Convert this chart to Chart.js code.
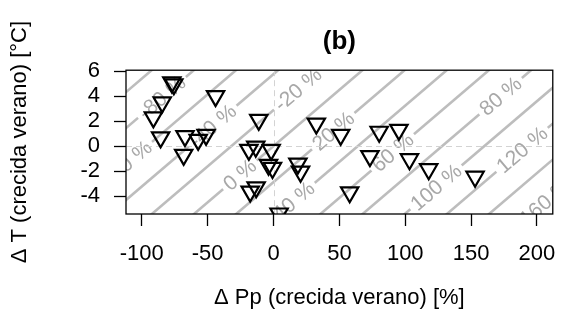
<!DOCTYPE html>
<html>
<head>
<meta charset="utf-8">
<script src="https://cdn.jsdelivr.net/npm/chart.js@4.4.1/dist/chart.umd.min.js"></script>
<style>
  html, body { margin: 0; padding: 0; background: #fff; }
  #wrap { width: 571px; height: 324px; }
</style>
</head>
<body>
<div id="wrap"><canvas id="chart" width="571" height="324"></canvas></div>
<script>
// points
const deltaPp = [-77.2, -75.7, -84.5, -91.2, -44.0, -85.7, -67.2, -57.2, -51.2, -68.2,
  -11.2, -18.7, -13.5, -1.8, -3.8, -0.8, 18.5, 20.5, -17.7, -13.2,
  4.2, 32.5, 51.0, 80.2, 95.2, 73.2, 103.2, 117.8, 153.0, 57.8];
const deltaT = [5.1, 4.95, 3.5, 2.3, 4.0, 0.7, 0.8, 0.5, 0.9, -0.7,
  2.1, -0.3, -0.05, -0.3, -1.5, -1.75, -1.4, -2.05, -3.65, -3.3,
  -5.4, 1.8, 0.9, 1.15, 1.3, -0.8, -1.05, -1.85, -2.45, -3.7];

const xTicks = [-100, -50, 0, 50, 100, 150, 200];
const yTicks = [-4, -2, 0, 2, 4, 6];

// background iso-lines (% change), Pp = ppPerLevel * level + ppPerDegree * T
const contourLevels = [-100, -80, -60, -40, -20, 0, 20, 40, 60, 80, 100, 120, 140, 160];
const ppPerLevel = 1.6;
const ppPerDegree = 11.1;
// where each label sits on its line (by T)
const labelLevels = [-80, -60, -40, -20, 0, 20, 40, 60, 80, 100, 120, 160];
const labelT = [3.9, -1.3, 1.6, 4.55, -2.3, 1.2, -4.4, -0.5, 4.0, -3.3, -0.3, -4.5];

const fontFam = '"Liberation Sans", Arial, sans-serif';
const lineColor = '#bdbdbd';
const labelColor = '#a8a8a8';

const linePp = (lvl, t) => ppPerLevel * lvl + ppPerDegree * t;

const contourSets = contourLevels.map(lvl => ({
  type: 'line',
  data: [{ x: linePp(lvl, -7), y: -7 }, { x: linePp(lvl, 8), y: 8 }],
  borderColor: lineColor,
  borderWidth: 2.6,
  pointRadius: 0,
  clip: 0,
  order: 1
}));

// labels on the iso-lines, zero lines, drawn just before the triangles
const isoLabels = {
  id: 'isoLabels',
  beforeDatasetDraw(chart, args) {
    if (args.index !== 0) return;
    const ctx = chart.ctx;
    const area = chart.chartArea;
    const xs = chart.scales.x, ys = chart.scales.y;
    ctx.save();
    ctx.beginPath();
    ctx.rect(area.left, area.top, area.right - area.left, area.bottom - area.top);
    ctx.clip();
    ctx.font = '21px ' + fontFam;
    ctx.textAlign = 'center';
    ctx.textBaseline = 'middle';
    labelLevels.forEach((lvl, i) => {
      const t = labelT[i];
      const px = xs.getPixelForValue(linePp(lvl, t));
      const py = ys.getPixelForValue(t);
      const px2 = xs.getPixelForValue(linePp(lvl, t + 1));
      const py2 = ys.getPixelForValue(t + 1);
      const ang = Math.atan2(py2 - py, px2 - px);
      const txt = lvl + ' %';
      const w = ctx.measureText(txt).width;
      ctx.save();
      ctx.translate(px, py);
      ctx.rotate(ang);
      ctx.fillStyle = '#fff';
      ctx.fillRect(-w / 2 - 4, -9, w + 8, 18);
      ctx.fillStyle = labelColor;
      ctx.fillText(txt, 0, 1);
      ctx.restore();
    });
    // dashed zero lines
    ctx.strokeStyle = '#d3d3d3';
    ctx.lineWidth = 1;
    ctx.setLineDash([6, 4]);
    const x0 = Math.round(xs.getPixelForValue(0)) + 0.5;
    const y0 = Math.round(ys.getPixelForValue(0)) + 0.5;
    ctx.beginPath();
    ctx.moveTo(x0, area.top);
    ctx.lineTo(x0, area.bottom);
    ctx.moveTo(area.left, y0);
    ctx.lineTo(area.right, y0);
    ctx.stroke();
    ctx.restore();
  },
  afterDatasetsDraw(chart) {
    const ctx = chart.ctx;
    const a = chart.chartArea;
    ctx.save();
    ctx.strokeStyle = '#000';
    ctx.lineWidth = 1.3;
    ctx.strokeRect(a.left, a.top, a.right - a.left, a.bottom - a.top);
    ctx.restore();
  }
};

const tickGrid = {
  drawOnChartArea: false,
  drawTicks: true,
  tickLength: 12,
  tickColor: '#000',
  tickWidth: 1.3
};

const config = {
  type: 'scatter',
  data: {
    datasets: [{
      data: deltaPp.map((p, i) => ({ x: p, y: deltaT[i] })),
      pointStyle: 'triangle',
      rotation: 180,
      pointRadius: 10,
      pointHoverRadius: 10,
      borderColor: '#000',
      borderWidth: 2.2,
      backgroundColor: 'rgba(0,0,0,0)',
      clip: 0,
      order: 0
    }, ...contourSets]
  },
  options: {
    responsive: false,
    animation: false,
    devicePixelRatio: 1,
    layout: { padding: { top: 0, right: 14, bottom: 0, left: 0 } },
    plugins: {
      legend: { display: false },
      tooltip: { enabled: false },
      title: {
        display: true,
        fullSize: false,
        text: '(b)',
        color: '#000',
        font: { family: fontFam, size: 26, weight: 'bold' },
        padding: { top: 26, bottom: 13 }
      }
    },
    scales: {
      x: {
        type: 'linear',
        min: -112,
        max: 212,
        afterBuildTicks: s => { s.ticks = xTicks.map(v => ({ value: v })); },
        afterFit: s => { s.height = 110; },
        ticks: { color: '#000', font: { family: fontFam, size: 22 }, padding: 15, autoSkip: false, maxRotation: 0 },
        grid: tickGrid,
        border: { display: false },
        title: {
          display: true,
          text: '\u0394 Pp (crecida verano) [%]',
          color: '#000',
          font: { family: fontFam, size: 22 },
          padding: { top: 0, bottom: 13 }
        }
      },
      y: {
        type: 'linear',
        min: -5.44,
        max: 6.08,
        afterBuildTicks: s => { s.ticks = yTicks.map(v => ({ value: v })); },
        afterFit: s => { s.width = 126; },
        ticks: { color: '#000', font: { family: fontFam, size: 22 }, padding: 14, autoSkip: false },
        grid: tickGrid,
        border: { display: false },
        title: {
          display: true,
          text: '\u0394 T (crecida verano) [\u00b0C]',
          color: '#000',
          font: { family: fontFam, size: 22 },
          padding: { top: 7, bottom: 0 }
        }
      }
    }
  },
  plugins: [isoLabels]
};

new Chart(document.getElementById('chart'), config);
</script>
</body>
</html>
